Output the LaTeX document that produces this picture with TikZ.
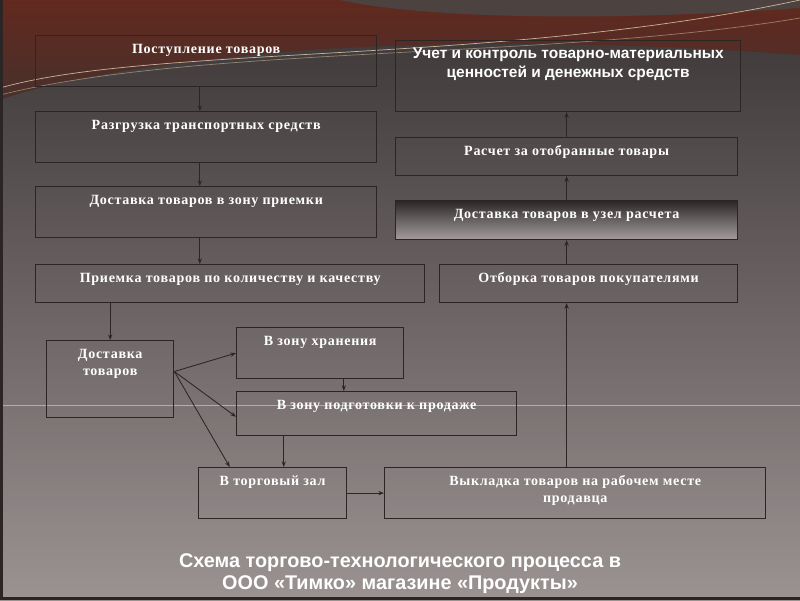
\documentclass[tikz,border=0pt]{standalone}
\usepackage{fontspec}
\setmainfont{Liberation Serif}
\newfontfamily\boxfont[LetterSpace=5]{Liberation Serif}
\newfontfamily\arialfont{Liberation Sans}
\usetikzlibrary{arrows.meta}
\pgfdeclarelayer{background}
\pgfsetlayers{background,main}
\definecolor{bgtop}{HTML}{3A3434}
\definecolor{bgbottom}{HTML}{9B9292}
\definecolor{swooshred}{HTML}{62291E}
\definecolor{swooshgray}{HTML}{4C4240}
\definecolor{swooshline}{HTML}{C8B49A}
\definecolor{boxline}{HTML}{2B2525}

\begin{document}
\begin{tikzpicture}[x=0.025cm, y=-0.025cm,
	box/.style={draw=boxline, line width=0.8pt, text=white, align=center, inner sep=0pt, text height=12.8pt, anchor=north west, font=\boxfont\bfseries\fontsize{10}{12}\selectfont},
	>={Stealth[length=4pt,width=3pt]},
	]
	\useasboundingbox (0,0) rectangle (800,600);
	%Nodes
	\node[box, minimum width=8.53cm, text depth=23.5pt] (n1) at (35,35) {Поступление товаров};
	\node[box, minimum width=8.53cm, text depth=23.5pt] (n2) at (35,111) {Разгрузка транспортных средств};
	\node[box, minimum width=8.53cm, text depth=23.5pt] (n3) at (35,186) {Доставка товаров в зону приемки};
	\node[box, minimum width=9.73cm, text depth=14.2pt] (n4) at (35,264) {Приемка товаров по количеству и качеству};
	\node[box, minimum width=3.18cm, text height=24.8pt, text depth=30pt] (n5) at (46,340) {Доставка\\товаров};
	\node[box, minimum width=4.18cm, text depth=23.5pt] (n6) at (236,327) {В зону хранения};
	\node[box, minimum width=7cm, text depth=18.5pt] (n7) at (236,391) {В зону подготовки к продаже};
	\node[box, minimum width=3.7cm, text depth=23.5pt] (n8) at (198,467) {В торговый зал};
	\node[box, minimum width=9.53cm, text height=24.8pt, text depth=11.5pt] (n9) at (384,467) {Выкладка товаров на рабочем месте\\продавца};
	\node[box, minimum width=7.45cm, text depth=14.2pt] (n10) at (439,264) {Отборка товаров покупателями};
	\node[box, minimum width=8.55cm, text depth=14.9pt, top color=bgtop!75!black, middle color=bgtop!45!bgbottom, bottom color=bgbottom!90!white] (n11) at (395,200) {Доставка товаров в узел расчета};
	\node[box, minimum width=8.55cm, text depth=14.2pt] (n12) at (395,137) {Расчет за отобранные товары};
	\node[box, minimum width=8.63cm, text height=26.3pt, text depth=24.2pt, font=\arialfont\bfseries\fontsize{11}{13.5}\selectfont] (n13) at (395,40) {Учет и контроль товарно-материальных\\ценностей и денежных средств};
	\node[font=\arialfont\bfseries\fontsize{14.1}{15.5}\selectfont, text=white, align=center] (title) at (400,574) {Схема торгово-технологического процесса в\\ООО «Тимко» магазине «Продукты»};
	\coordinate (fork) at ([yshift=0.19cm]n5.east);

	\begin{pgfonlayer}{background}
	\shade[top color=bgtop, bottom color=bgbottom] (0,0) rectangle (800,600);
	\shade[top color=swooshred, bottom color=swooshred!35!bgtop] (0,0) -- (800,0) -- (800,55) .. controls (600,40) and (400,40) .. (250,55) .. controls (120,68) and (40,85) .. (0,100) -- cycle;
	\fill[swooshgray] (340,0) .. controls (420,18) and (600,22) .. (800,8) -- (800,0) -- cycle;
	\draw[swooshline, line width=0.5pt] (0,88) .. controls (150,45) and (500,65) .. (800,0);
	\draw[swooshline, line width=0.5pt, opacity=0.6] (0,95) .. controls (200,45) and (550,60) .. (800,18);
	\draw[white!25!bgbottom, line width=0.7pt] (0,405) -- (800,405);
	\fill[boxline] (0,0) rectangle (3,600);
	\fill[boxline] (0,597) rectangle (800,600);
	\end{pgfonlayer}

	%Lines
	\draw[boxline,semithick,->] ([xshift=-0.16cm]n1.south) -- ([xshift=-0.16cm]n2.north);
	\draw[boxline,semithick,->] ([xshift=-0.16cm]n2.south) -- ([xshift=-0.16cm]n3.north);
	\draw[boxline,semithick,->] ([xshift=-0.16cm]n3.south) -- ([xshift=-0.16cm]n3.south |- n4.north);
	\draw[boxline,semithick,->] (n5.north |- n4.south) -- (n5.north);

	\draw[boxline,semithick,->] (fork) -- (n6.west);
	\draw[boxline,semithick,->] (fork) -- ([yshift=-0.08cm]n7.west);
	\draw[boxline,semithick,->] (fork) -- ([xshift=-1.07cm]n8.north);
	\draw[boxline,semithick,->] ([xshift=0.59cm]n6.south) -- ([xshift=0.59cm]n6.south |- n7.north);
	\draw[boxline,semithick,->] ([xshift=0.28cm]n8.north |- n7.south) -- ([xshift=0.28cm]n8.north);
	\draw[boxline,semithick,->] (n8.east) -- (n9.west);

	\draw[boxline,semithick,->] (n9.north -| n12.south) -- (n10.south -| n12.south);
	\draw[boxline,semithick,->] (n10.north -| n11.south) -- (n11.south);
	\draw[boxline,semithick,->] (n11.north) -- (n12.south);
	\draw[boxline,semithick,->] (n12.north) -- (n13.south -| n12.north);
\end{tikzpicture}
\end{document}
